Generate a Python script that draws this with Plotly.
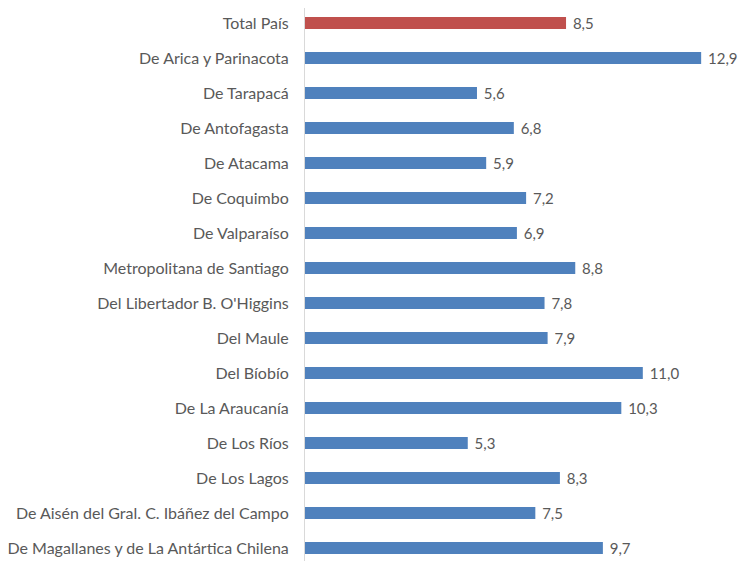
import plotly.graph_objs as go

# Colors
BLUE = "#4F81BD"
RED = "#C0504D"
GREY_TEXT = "#595959"
GREY_LINE = "#D9D9D9"

regions = [
    "Total País",
    "De Arica y Parinacota",
    "De Tarapacá",
    "De Antofagasta",
    "De Atacama",
    "De Coquimbo",
    "De Valparaíso",
    "Metropolitana de Santiago",
    "Del Libertador B. O'Higgins",
    "Del Maule",
    "Del Bíobío",
    "De La Araucanía",
    "De Los Ríos",
    "De Los Lagos",
    "De Aisén del Gral. C. Ibáñez del Campo",
    "De Magallanes y de La Antártica Chilena",
]
values = [8.5, 12.9, 5.6, 6.8, 5.9, 7.2, 6.9, 8.8, 7.8, 7.9, 11.0, 10.3, 5.3, 8.3, 7.5, 9.7]

colors = [RED if r == "Total País" else BLUE for r in regions]

fig = go.Figure(go.Bar(
    x=values,
    y=regions,
    orientation='h',
    marker={'color': colors, 'line': {'width': 0}},
    width=0.34,
    texttemplate='\u00a0%{x:.1f}',
    textposition='outside',
    constraintext='none',
    textfont={'color': GREY_TEXT, 'size': 15},
    cliponaxis=False,
))

# page body has a default 8px margin, so the figure is shrunk to fit the window
fig.update_layout(
    width=738,
    height=553,
    margin={'l': 297, 'r': 0, 't': 0, 'b': 0},
    plot_bgcolor='white',
    paper_bgcolor='white',
    separators=',.',
    font={'family': 'Lato, Open Sans, sans-serif', 'color': GREY_TEXT, 'size': 16},
    showlegend=False,
)
fig.update_xaxes(
    range=[0, 14.36],
    showgrid=False,
    zeroline=False,
    showticklabels=False,
    showline=False,
)
fig.update_yaxes(
    categoryorder='array',
    categoryarray=regions,
    range=[15.37, -0.43],
    showgrid=False,
    showline=True,
    linecolor=GREY_LINE,
    linewidth=1,
    ticks='',
    ticklabelstandoff=12,
    tickfont={'size': 16, 'color': GREY_TEXT},
)

fig.write_html("out.html")
